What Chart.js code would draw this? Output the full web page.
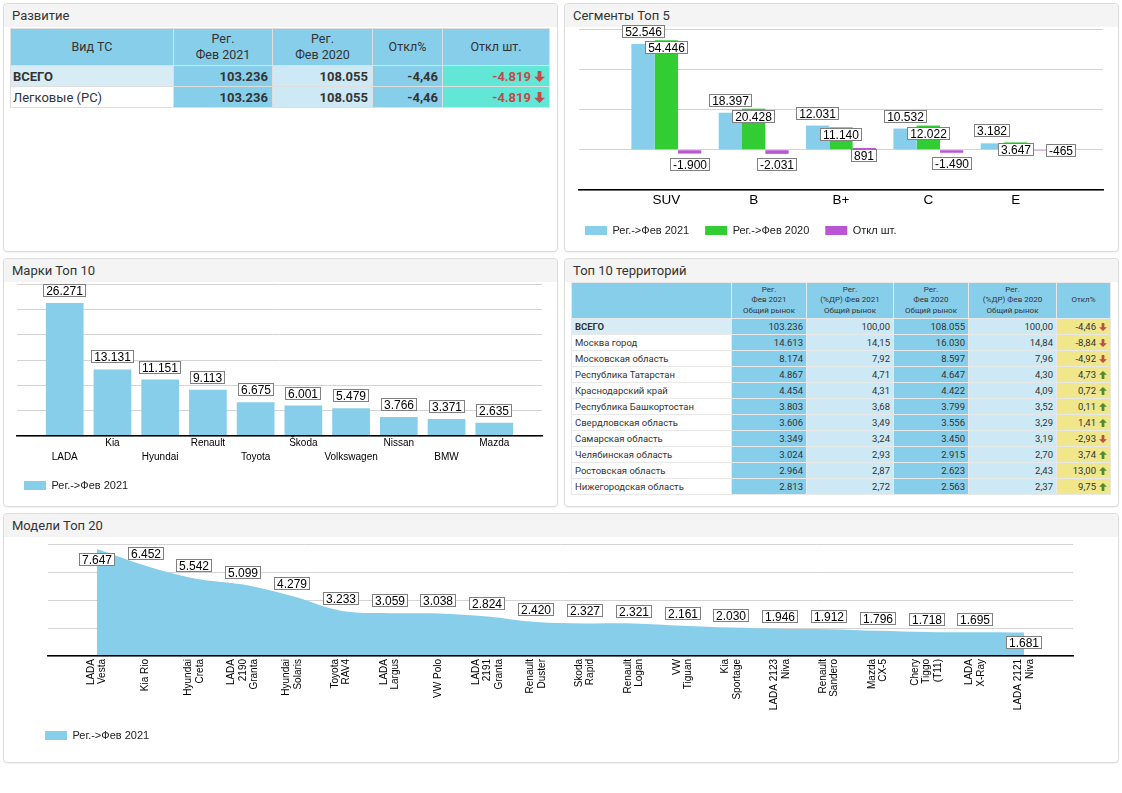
<!DOCTYPE html>
<html lang="ru">
<head>
<meta charset="utf-8">
<title>Регистрации Фев 2021</title>
<script src="https://cdn.jsdelivr.net/npm/chart.js@4.4.1/dist/chart.umd.min.js"></script>
<style>
html, body { margin: 0; padding: 0; background: #fff; }
body { position: relative; width: 1122px; height: 793px; overflow: hidden; font-family: Roboto, "Noto Sans", sans-serif; color: #333; }
.panel { position: absolute; box-sizing: border-box; border: 1px solid #dcdcdc; border-radius: 4px; background: #fff; box-shadow: 0 1px 2px rgba(0, 0, 0, .06); }
.panel .hd { height: 23px; line-height: 23px; padding-left: 8px; font-size: 13px; background: #f4f4f4; border-radius: 4px 4px 0 0; color: #333; }
canvas { position: absolute; }
table { position: absolute; border-collapse: collapse; table-layout: fixed; }
#dev { left: 10px; top: 28px; width: 539px; font-size: 13px; }
#dev th, #dev td { border: 1px solid #dedede; padding: 0 4px; overflow: hidden; white-space: nowrap; }
#dev th { background: #87ceeb; font-weight: normal; font-size: 12.5px; line-height: 16.5px; height: 36px; color: #333; }
#dev td { height: 20px; text-align: right; font-weight: bold; color: #333; }
#dev td.nm { text-align: left; font-weight: normal; background: #fff; padding-left: 2px; }
#dev td.nm.tot { font-weight: bold; background: #d8ecf6; }
#dev td.sb { background: #87ceeb; }
#dev td.lt { background: #cde9f5; }
#dev td.tq { background: #62e6d5; color: #c44a4a; }
#reg { left: 571px; top: 282px; width: 539px; font-size: 9.5px; }
#reg th, #reg td { border: 1px solid #e8e8e8; padding: 0 3px; overflow: hidden; white-space: nowrap; }
#reg th { background: #87ceeb; font-weight: normal; font-size: 8px; line-height: 10.3px; height: 35px; color: #333; }
#reg td { height: 15px; text-align: right; color: #333; }
#reg td.nm { text-align: left; background: #fff; }
#reg td.nm.tot { background: #d8ecf6; font-weight: bold; }
#reg td.sb { background: #87ceeb; }
#reg td.lt { background: #cde9f5; }
#reg td.kh { background: #f0e68c; }
.neg { color: #c44a4a; }
.pos { color: #4e8a2e; }
svg.ar { vertical-align: -1px; margin-left: 3px; }
</style>
</head>
<body>

<div class="panel" style="left:3px; top:3px; width:555px; height:249px;"><div class="hd">Развитие</div></div>
<div class="panel" style="left:564px; top:3px; width:555px; height:249px;"><div class="hd">Сегменты Топ 5</div></div>
<div class="panel" style="left:3px; top:258px; width:555px; height:249px;"><div class="hd">Марки Топ 10</div></div>
<div class="panel" style="left:564px; top:258px; width:555px; height:249px;"><div class="hd">Топ 10 территорий</div></div>
<div class="panel" style="left:3px; top:513px; width:1116px; height:250px;"><div class="hd">Модели Топ 20</div></div>

<table id="dev"></table>
<table id="reg"></table>

<canvas id="segChart" width="552" height="232" style="left:565px; top:18px;"></canvas>
<canvas id="brandChart" width="552" height="232" style="left:4px; top:273px;"></canvas>
<canvas id="modelChart" width="1114" height="229" style="left:4px; top:533px;"></canvas>

<script>
"use strict";

// Развитие
var devRows = ["ВСЕГО", "Легковые (PC)"];
var devFeb2021 = [103236, 103236];
var devFeb2020 = [108055, 108055];
var devPct = [-4.46, -4.46];
var devDiff = [-4819, -4819];

// Сегменты Топ 5
var segLabels = ["SUV", "B", "B+", "C", "E"];
var segFeb2021 = [52546, 18397, 12031, 10532, 3182];
var segFeb2020 = [54446, 20428, 11140, 12022, 3647];
var segDiff = [-1900, -2031, 891, -1490, -465];

// Марки Топ 10
var brandLabels = ["LADA", "Kia", "Hyundai", "Renault", "Toyota", "Škoda", "Volkswagen", "Nissan", "BMW", "Mazda"];
var brandFeb2021 = [26271, 13131, 11151, 9113, 6675, 6001, 5479, 3766, 3371, 2635];

// Топ 10 территорий
var regionNames = ["ВСЕГО", "Москва город", "Московская область", "Республика Татарстан", "Краснодарский край",
	"Республика Башкортостан", "Свердловская область", "Самарская область", "Челябинская область",
	"Ростовская область", "Нижегородская область"];
var regFeb2021 = [103236, 14613, 8174, 4867, 4454, 3803, 3606, 3349, 3024, 2964, 2813];
var regShare2021 = [100.00, 14.15, 7.92, 4.71, 4.31, 3.68, 3.49, 3.24, 2.93, 2.87, 2.72];
var regFeb2020 = [108055, 16030, 8597, 4647, 4422, 3799, 3556, 3450, 2915, 2623, 2563];
var regShare2020 = [100.00, 14.84, 7.96, 4.30, 4.09, 3.52, 3.29, 3.19, 2.70, 2.43, 2.37];
var regPct = [-4.46, -8.84, -4.92, 4.73, 0.72, 0.11, 1.41, -2.93, 3.74, 13.00, 9.75];

// Модели Топ 20
var modelLabels = [["LADA", "Vesta"], "Kia Rio", ["Hyundai", "Creta"], ["LADA", "2190", "Granta"], ["Hyundai", "Solaris"],
	["Toyota", "RAV4"], ["LADA", "Largus"], "VW Polo", ["LADA", "2191", "Granta"], ["Renault", "Duster"],
	["Skoda", "Rapid"], ["Renault", "Logan"], ["VW", "Tiguan"], ["Kia", "Sportage"], ["LADA 2123", "Niva"],
	["Renault", "Sandero"], ["Mazda", "CX-5"], ["Chery", "Tiggo", "(T11)"], ["LADA", "X-Ray"], ["LADA 2121", "Niva"]];
var modelFeb2021 = [7647, 6452, 5542, 5099, 4279, 3233, 3059, 3038, 2824, 2420,
	2327, 2321, 2161, 2030, 1946, 1912, 1796, 1718, 1695, 1681];

var ARIAL = "'Liberation Sans', Arial, sans-serif";
var BLUE = "#87ceeb", GREEN = "#32cd32", PURPLE = "#ba55d3";

function fmtInt(v) {
	var s = String(Math.abs(Math.round(v))).replace(/\B(?=(\d{3})+(?!\d))/g, ".");
	return (v < 0 ? "-" : "") + s;
}
function fmtDec(v) {
	return v.toFixed(2).replace(".", ",");
}
function arrow(v, w, h) {
	var c = v < 0 ? "#c44a4a" : "#4e8a2e";
	var d = v < 0 ? "M3.3 0h3.4v5.2h3.2L5 10 0.1 5.2h3.2z" : "M3.3 10h3.4V4.8h3.2L5 0 0.1 4.8h3.2z";
	return "<svg class='ar' width='" + w + "' height='" + h + "' viewBox='0 0 10 10'><path d='" + d + "' fill='" + c + "'/></svg>";
}
// empty slot on each side, the reference keeps a free category at both ends
function pad(list, blank) {
	return [blank].concat(list, [blank]);
}

/* tables */
(function () {
	var html = "<colgroup><col style='width:163px'><col style='width:99px'><col style='width:100px'><col style='width:70px'><col style='width:107px'></colgroup>" +
		"<tr><th>Вид ТС</th><th>Рег.<br>Фев 2021</th><th>Рег.<br>Фев 2020</th><th>Откл%</th><th>Откл шт.</th></tr>";
	devRows.forEach(function (name, i) {
		html += "<tr><td class='nm" + (i === 0 ? " tot" : "") + "'>" + name + "</td>" +
			"<td class='sb'>" + fmtInt(devFeb2021[i]) + "</td>" +
			"<td class='lt'>" + fmtInt(devFeb2020[i]) + "</td>" +
			"<td class='sb'>" + fmtDec(devPct[i]) + "</td>" +
			"<td class='tq'>" + fmtInt(devDiff[i]) + arrow(devDiff[i], 11, 11) + "</td></tr>";
	});
	document.getElementById("dev").innerHTML = html;

	html = "<colgroup><col style='width:160px'><col style='width:75px'><col style='width:87px'><col style='width:75px'><col style='width:88px'><col style='width:54px'></colgroup>" +
		"<tr><th></th><th>Рег.<br>Фев 2021<br>Общий рынок</th><th>Рег.<br>(%ДР) Фев 2021<br>Общий рынок</th>" +
		"<th>Рег.<br>Фев 2020<br>Общий рынок</th><th>Рег.<br>(%ДР) Фев 2020<br>Общий рынок</th><th>Откл%</th></tr>";
	regionNames.forEach(function (name, i) {
		html += "<tr><td class='nm" + (i === 0 ? " tot" : "") + "'>" + name + "</td>" +
			"<td class='sb'>" + fmtInt(regFeb2021[i]) + "</td>" +
			"<td class='lt'>" + fmtDec(regShare2021[i]) + "</td>" +
			"<td class='sb'>" + fmtInt(regFeb2020[i]) + "</td>" +
			"<td class='lt'>" + fmtDec(regShare2020[i]) + "</td>" +
			"<td class='kh " + (regPct[i] < 0 ? "neg" : "pos") + "'>" + fmtDec(regPct[i]) + arrow(regPct[i], 8, 8) + "</td></tr>";
	});
	document.getElementById("reg").innerHTML = html;
}());

/* value boxes drawn over the marks */
var boxLabels = {
	id: "boxLabels",
	afterDatasetsDraw: function (chart) {
		var ctx = chart.ctx, area = chart.chartArea, placed = [], h = 13;
		ctx.save();
		ctx.font = "12px " + ARIAL;
		ctx.textAlign = "center";
		ctx.textBaseline = "middle";
		chart.data.datasets.forEach(function (ds, di) {
			var meta = chart.getDatasetMeta(di), last = -1;
			if (!ds.place) {
				return;
			}
			ds.data.forEach(function (v, i) { if (v !== null) { last = i; } });
			meta.data.forEach(function (el, i) {
				var v = ds.data[i], txt, w, box;
				if (v === null || v === undefined) {
					return;
				}
				txt = fmtInt(v);
				w = Math.round(ctx.measureText(txt).width) + 6;
				box = { l: el.x - w / 2, t: 0, w: w, h: h };
				if (ds.place === "above") {
					box.t = el.y - 6 - h;
				} else if (ds.place === "hang") {
					box.t = v < 0 ? el.y + 4 : el.y + 1;
				} else {
					box.t = el.y - 6 - h;
					if (box.t < area.top || i === last) {
						box.t = el.y + 4;
					}
				}
				placed.forEach(function (o) {
					if (box.l < o.l + o.w && box.l + box.w > o.l && box.t < o.t + o.h && box.t + box.h > o.t) {
						box.l = o.l + o.w + 12;
						box.t = el.y - h / 2;
					}
				});
				placed.push(box);
				box.l = Math.round(box.l);
				box.t = Math.round(box.t);
				ctx.fillStyle = "#fff";
				ctx.fillRect(box.l, box.t, box.w, box.h);
				ctx.strokeStyle = "#808080";
				ctx.lineWidth = 1;
				ctx.strokeRect(box.l + 0.5, box.t + 0.5, box.w - 1, box.h - 1);
				ctx.fillStyle = "#000";
				ctx.fillText(txt, box.l + box.w / 2, box.t + h / 2 + 1);
			});
		});
		ctx.restore();
	}
};

/* rotated multi-line ticks: center the whole block on the tick */
var centerRotated = {
	id: "centerRotated",
	beforeDraw: function (chart) {
		var scale = chart.scales.x;
		scale.getLabelItems(chart.chartArea).forEach(function (item) {
			var lines = Array.isArray(item.label) ? item.label.length : 1;
			item.options.translation[0] -= (lines - 1) * item.font.lineHeight / 2;
		});
	}
};

Chart.defaults.font.family = ARIAL;
Chart.defaults.color = "#000";
Chart.defaults.animation = false;
Chart.defaults.plugins.tooltip.enabled = false;

function legendOpts() {
	return {
		position: "bottom",
		align: "start",
		labels: { boxWidth: 22, boxHeight: 9, padding: 16, color: "#222", font: { size: 11, family: ARIAL } }
	};
}
function yOpts(max, min, step, tick) {
	return {
		min: min,
		max: max,
		ticks: { stepSize: step, display: false },
		grid: { color: "#d3d3d3", tickLength: tick, tickColor: "rgba(0,0,0,0)" },
		border: { display: false }
	};
}

new Chart(document.getElementById("segChart"), {
	type: "bar",
	data: {
		labels: pad(segLabels, ""),
		datasets: [
			{ label: "Рег.->Фев 2021", data: pad(segFeb2021, null), backgroundColor: BLUE, place: "above" },
			{ label: "Рег.->Фев 2020", data: pad(segFeb2020, null), backgroundColor: GREEN, place: "hang" },
			{ label: "Откл шт.", data: pad(segDiff, null), backgroundColor: PURPLE, place: "hang" }
		]
	},
	options: {
		responsive: false,
		layout: { padding: { left: 4, right: 14, top: 11, bottom: 4 } },
		datasets: { bar: { categoryPercentage: 0.8, barPercentage: 1, borderWidth: 0 } },
		plugins: { legend: legendOpts() },
		scales: {
			x: {
				offset: false,
				grid: { display: false, drawTicks: false },
				border: { color: "#000", width: 1.5, z: 1 },
				ticks: { autoSkip: false, maxRotation: 0, padding: 2, font: { size: 13.5 } },
				afterFit: function (s) { s.height = 19; }
			},
			y: yOpts(60000, -20000, 20000, 10)
		}
	},
	plugins: [boxLabels]
});

new Chart(document.getElementById("brandChart"), {
	type: "bar",
	data: {
		labels: pad(brandLabels, ""),
		datasets: [
			{ label: "Рег.->Фев 2021", data: pad(brandFeb2021, null), backgroundColor: BLUE, place: "above" }
		]
	},
	options: {
		responsive: false,
		layout: { padding: { left: 4, right: 14, top: 11, bottom: 4 } },
		datasets: { bar: { categoryPercentage: 0.79, barPercentage: 1, borderWidth: 0 } },
		plugins: { legend: legendOpts() },
		scales: {
			x: {
				offset: false,
				grid: { display: false, drawTicks: false },
				border: { color: "#000", width: 1.5, z: 1 },
				ticks: {
					autoSkip: false,
					maxRotation: 0,
					padding: 0,
					font: { size: 10, lineHeight: 1.4 },
					// staggered in two rows, first brand on the lower row
					callback: function (value, index) {
						var s = this.getLabelForValue(value);
						return index % 2 === 1 ? ["", s] : s;
					}
				},
				afterFit: function (s) { s.height = 28; }
			},
			y: yOpts(30000, 0, 5000, 9)
		}
	},
	plugins: [boxLabels]
});

new Chart(document.getElementById("modelChart"), {
	type: "line",
	data: {
		labels: pad(modelLabels, ""),
		datasets: [
			{
				label: "Рег.->Фев 2021",
				data: pad(modelFeb2021, null),
				backgroundColor: BLUE,
				borderColor: BLUE,
				borderWidth: 0,
				pointRadius: 0,
				tension: 0.35,
				fill: "origin",
				place: "point"
			}
		]
	},
	options: {
		responsive: false,
		layout: { padding: { left: 25, right: 45, top: 11, bottom: 11 } },
		plugins: { legend: legendOpts() },
		scales: {
			x: {
				offset: false,
				grid: { display: false, drawTicks: false },
				border: { color: "#000", width: 1.5, z: 1 },
				ticks: { autoSkip: false, minRotation: 90, maxRotation: 90, padding: 3, font: { size: 10, lineHeight: 1.15 } },
				afterFit: function (s) { s.height = 58; }
			},
			y: yOpts(8000, 0, 2000, 19)
		}
	},
	plugins: [boxLabels, centerRotated]
});
</script>
</body>
</html>
